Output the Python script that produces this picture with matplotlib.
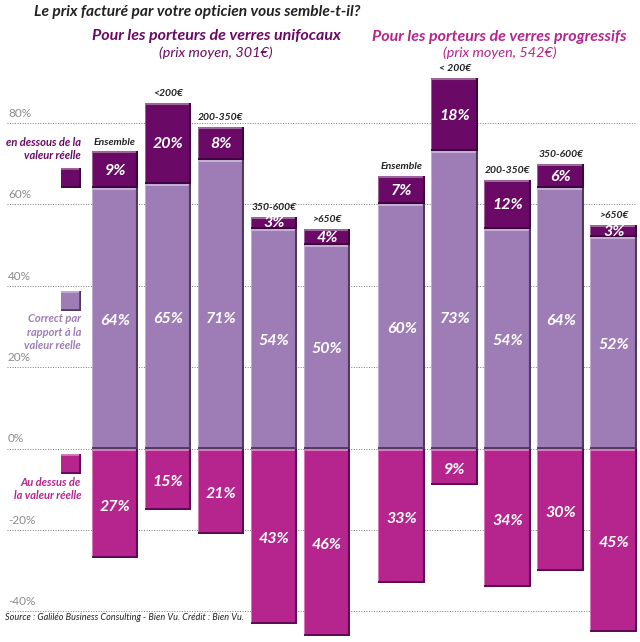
"""Recreate the stacked price-perception bars for single-vision and progressive lenses."""

import matplotlib
matplotlib.use("Agg")
import matplotlib.pyplot as plt
from matplotlib.patches import Rectangle
from matplotlib.transforms import Affine2D


SEGMENTS_UNI = ["Ensemble", "<200€", "200-350€", "350-600€", ">650€"]
SEGMENTS_PRO = ["Ensemble", "< 200€", "200-350€", "350-600€", ">650€"]

CORRECT_UNI = [64, 65, 71, 54, 50]
BELOW_UNI = [9, 20, 8, 3, 4]
ABOVE_UNI = [27, 15, 21, 43, 46]

CORRECT_PRO = [60, 73, 54, 64, 52]
BELOW_PRO = [7, 18, 12, 6, 3]
ABOVE_PRO = [33, 9, 34, 30, 45]

Y_TICKS = [80, 60, 40, 20, 0, -20, -40]

DARK = "#6A0A66"
MID = "#9E7DB6"
PINK = "#B6258E"
GREY = "#8A8A8A"
PX_X = 53.0   # one bar step in pixels
PX_Y = 4.07   # one percent in pixels
GROUP_OFFSET = 5.41
BAR_WIDTH = 0.88

plt.rcParams["font.family"] = ["Lato", "DejaVu Sans"]

fig = plt.figure(figsize=(6.4, 6.42), dpi=100)
ax = fig.add_axes([0, 0, 1, 1])
ax.set_xlim(-115 / PX_X, (640 - 115) / PX_X)
ax.set_ylim(-193.5 / PX_Y, 448.5 / PX_Y)
ax.axis("off")

# pixel transform for the legend and headline texts, origin bottom left
PX = Affine2D().scale(1 / 640, 1 / 642) + fig.transFigure


def bevel(rect, light, dark):
    """Give a bar a light top edge and a dark right and bottom edge."""
    x0, x1 = rect.get_x(), rect.get_x() + rect.get_width()
    y0, y1 = sorted((rect.get_y(), rect.get_y() + rect.get_height()))
    for xs, ys, color, lw in [
        ([x0, x1], [y1, y1], light, 2.2),
        ([x0, x0], [y0, y1], light, 1.4),
        ([x1, x1], [y0, y1], dark, 3.0),
        ([x0, x1], [y0, y0], dark, 2.8),
    ]:
        line, = ax.plot(xs, ys, color=color, lw=lw, solid_capstyle="butt", zorder=3)
        line.set_clip_path(rect)


def draw_group(offset, names, correct, below, above):
    positions = [offset + i for i in range(len(names))]
    for i, x in enumerate(positions):
        mid = ax.bar(x, correct[i], BAR_WIDTH, color=MID, zorder=2)[0]
        top = ax.bar(x, below[i], BAR_WIDTH, bottom=correct[i], color=DARK, zorder=2)[0]
        low = ax.bar(x, -above[i], BAR_WIDTH, color=PINK, zorder=2)[0]
        bevel(mid, "#C3AFD2", "#4E3A63")
        bevel(top, "#9B669A", "#3E0440")
        bevel(low, "#D77CBB", "#5E0A55")

        style = dict(color="white", ha="center", va="center", style="italic",
                     weight="bold", fontsize=11.5, zorder=4)
        # tall bars keep their label lower than the middle
        ax.text(x, min(correct[i] / 2, 32.5) - 0.6, f"{correct[i]}%", **style)
        ax.text(x, correct[i] + below[i] / 2 - 0.2, f"{below[i]}%", **style)
        ax.text(x, -above[i] / 2 - 0.8, f"{above[i]}%", **style)
        ax.text(x, correct[i] + below[i] + 1.2, names[i], ha="center", va="bottom",
                style="italic", weight="bold", fontsize=7.5, color="#222222", zorder=4)


def swatch(x_px, y_px, color, light, dark):
    rect = Rectangle((x_px, 622 - y_px), 20, 20, transform=PX,
                     facecolor=color, edgecolor="none", zorder=3)
    ax.add_patch(rect)
    for xs, ys, c in [
        ([x_px, x_px + 20], [622 - y_px, 622 - y_px], dark),
        ([x_px, x_px + 20], [642 - y_px, 642 - y_px], light),
        ([x_px + 20, x_px + 20], [622 - y_px, 642 - y_px], dark),
    ]:
        line, = ax.plot(xs, ys, color=c, lw=2.6, solid_capstyle="butt", transform=PX, zorder=3)
        line.set_clip_path(rect)


def px_text(x, y, s, **kw):
    kw.setdefault("style", "italic")
    kw.setdefault("weight", "bold")
    ax.text(x, 642 - y, s, transform=PX, **kw)


for tick in Y_TICKS:
    ax.plot([-108 / PX_X, 521 / PX_X], [tick, tick], color="#777777", lw=0.7,
            ls=(0, (1, 1.6)), zorder=1)
    ax.text(-107 / PX_X, tick + 1.0, f"{tick}%", color=GREY, fontsize=8.5, va="bottom", ha="left")

draw_group(0, SEGMENTS_UNI, CORRECT_UNI, BELOW_UNI, ABOVE_UNI)
draw_group(GROUP_OFFSET, SEGMENTS_PRO, CORRECT_PRO, BELOW_PRO, ABOVE_PRO)

swatch(61, 168, DARK, "#9B669A", "#3E0440")
swatch(61, 291, MID, "#C3AFD2", "#4E3A63")
swatch(61, 454, PINK, "#D77CBB", "#5E0A55")

px_text(34, 12, "Le prix facturé par votre opticien vous semble-t-il?", fontsize=11.2,
        color="#222222", va="center", ha="left")
px_text(216, 36, "Pour les porteurs de verres unifocaux", fontsize=11.5, color=DARK,
        va="center", ha="center")
px_text(216, 53, "(prix moyen, 301€)", fontsize=10.4, color=DARK, va="center", ha="center", weight="normal")
px_text(499.5, 37, "Pour les porteurs de verres progressifs", fontsize=11.5, color=PINK,
        va="center", ha="center")
px_text(499.5, 53, "(prix moyen, 542€)", fontsize=10.4, color=PINK, va="center", ha="center", weight="normal")

px_text(81, 149, "en dessous de la\nvaleur réelle", fontsize=8, color=DARK, va="center",
        ha="right", linespacing=1.25)
px_text(81, 332, "Correct par\nrapport à la\nvaleur réelle", fontsize=8, color=MID, va="center",
        ha="right", linespacing=1.3)
px_text(81, 489, "Au dessus de\nla valeur réelle", fontsize=8, color=PINK, va="center",
        ha="right", linespacing=1.25)
px_text(5, 618, "Source : Galiléo Business Consulting - Bien Vu. Crédit : Bien Vu.", fontsize=6.6,
        color="#222222", va="center", ha="left", weight="normal", zorder=5)

fig.savefig("out.png", dpi=100)
